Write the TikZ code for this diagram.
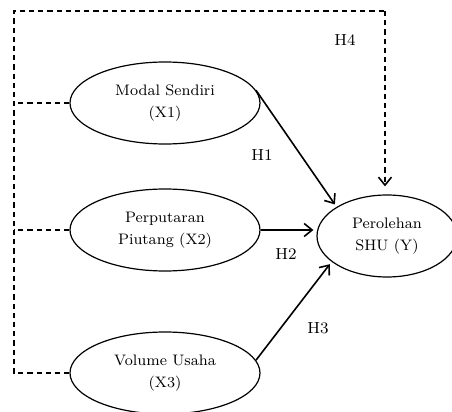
\documentclass[tikz,border=0pt]{standalone}
\usepackage{tikz}
\usetikzlibrary{shapes.geometric, arrows.meta, positioning, calc}

\begin{document}
\begin{tikzpicture}[
    x=0.5pt, y=-0.5pt,
    var/.style={draw, ellipse, semithick, minimum width=95pt, minimum height=41pt, inner sep=0pt, align=center, font=\fontsize{7.6}{11}\selectfont},
    dep/.style={var, minimum width=70pt},
    lbl/.style={font=\fontsize{8}{10}\selectfont},
    arrow/.style={-{Straight Barb[length=4pt, width=6.5pt]}, thick, shorten >=1.5pt},
    dline/.style={thick, dash pattern=on 2.6pt off 2pt}
]
    \useasboundingbox (0,0) rectangle (452,412);
    \node[var] (x1) at (165,103) {Modal Sendiri\\(X1)};
    \node[var] (x2) at (165,230) {Perputaran\\Piutang (X2)};
    \node[var] (x3) at (165,373) {Volume Usaha\\(X3)};
    \node[dep] (y) at (387,236) {Perolehan\\SHU (Y)};
    % dashed frame for H4
    \coordinate (tl) at (14,11);
    \coordinate (tr) at (385,11);
    \coordinate (bl) at (14,373);
    \draw[dline] (x3.west) -- (bl) -- (tl) -- (tr);
    \draw[dline] (x1.west) -- (x1.west -| tl);
    \draw[dline] (x2.west) -- (x2.west -| tl);
    \draw[dline, -{Straight Barb[length=4pt, width=6.5pt]}, shorten >=4pt] (tr) -- (tr |- y.north);
    \draw[arrow] (x1.8) -- (y.150);
    \draw[arrow] (x2.east) -- (x2.east -| y.west);
    \draw[arrow] (x3.8) -- (y.205);
    \node[lbl] (h4) at (345,40) {H4};
    \node[lbl] (h1) at (262,155) {H1};
    \node[lbl] (h2) at (286,254) {H2};
    \node[lbl] (h3) at (318,328) {H3};
\end{tikzpicture}
\end{document}
